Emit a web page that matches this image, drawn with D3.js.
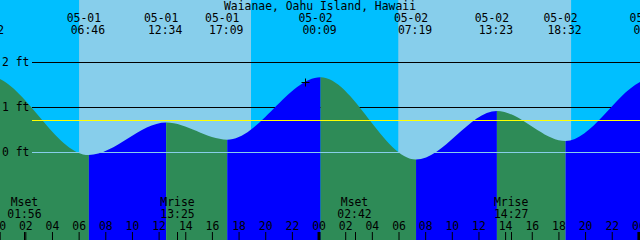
<!DOCTYPE html>
<html>
<head>
<meta charset="utf-8">
<script src="https://cdn.jsdelivr.net/npm/d3@7"></script>
<style>
  html, body { margin: 0; padding: 0; background: #00bfff; }
  svg { display: block; }
  text { font-family: "DejaVu Sans Mono", monospace; font-size: 11.4px; fill: #000; }
</style>
</head>
<body>
<div class="canvas"></div>
<script>
// Tide data (high / low events, incl. the ones just off each edge)
const title = 'Waianae, Oahu Island, Hawaii';
const tideTimes = ['2024-04-30 16:30', '2024-04-30 23:12', '2024-05-01 06:46', '2024-05-01 12:34',
    '2024-05-01 17:09', '2024-05-02 00:09', '2024-05-02 07:19', '2024-05-02 13:23',
    '2024-05-02 18:32', '2024-05-03 01:00', '2024-05-03 07:50'];
const tideHeights = [0.30, 1.70, -0.06, 0.66, 0.28, 1.67, -0.16, 0.92, 0.25, 1.63, -0.20];

const sunrises = ['2024-05-01 06:02', '2024-05-02 05:59'];
const sunsets = ['2024-05-01 18:56', '2024-05-02 18:57'];

const moonTimes = ['2024-05-01 01:56', '2024-05-01 13:25', '2024-05-02 02:42', '2024-05-02 14:27'];
const moonLabels = ['Mset', 'Mrise', 'Mset', 'Mrise'];

const levelTicks = [0, 1, 2];
const meanLevel = 0.71;
const nowTime = '2024-05-01 22:58';
const nowHeight = 1.56;

const svgWidth = 640;
const svgHeight = 240;

const parse = d3.utcParse('%Y-%m-%d %H:%M');
const tides = tideTimes.map((t, i) => ({ t: parse(t), h: tideHeights[i] }));

const svg = d3.select('.canvas')
    .append('svg')
    .attr('width', svgWidth)
    .attr('height', svgHeight);

// two days, the first midnight sits just left of the edge
const x = d3.scaleUtc()
    .domain([parse('2024-05-01 00:00'), parse('2024-05-03 00:00')])
    .range([-1.33, 638.4]);

const y = d3.scaleLinear()
    .domain([0, 2])
    .range([152.3, 62.3]);

// night background + daylight bands
svg.append('rect')
    .attr('width', svgWidth).attr('height', svgHeight)
    .attr('fill', '#00bfff');

svg.selectAll('.day')
    .data(sunrises)
    .enter().append('rect')
    .attr('class', 'day')
    .attr('x', d => x(parse(d)))
    .attr('width', (d, i) => x(parse(sunsets[i])) - x(parse(d)))
    .attr('y', 0)
    .attr('height', svgHeight)
    .attr('fill', '#87ceeb');

// black level lines sit behind the water
svg.selectAll('.level')
    .data(levelTicks.filter(d => d !== 0))
    .enter().append('line')
    .attr('x1', 32).attr('x2', svgWidth)
    .attr('y1', d => Math.round(y(d)) + 0.5)
    .attr('y2', d => Math.round(y(d)) + 0.5)
    .attr('stroke', '#000');

// tide area, blue while rising and green while falling
const area = d3.area()
    .x(d => x(d.t))
    .y0(svgHeight)
    .y1(d => y(d.h))
    .curve(d3.curveMonotoneX);

svg.append('clipPath')
    .attr('id', 'water')
    .append('path')
    .attr('d', area(tides));

const segments = d3.pairs(tides);

svg.append('g')
    .attr('clip-path', 'url(#water)')
    .selectAll('rect')
    .data(segments)
    .enter().append('rect')
    .attr('x', d => x(d[0].t))
    .attr('width', d => x(d[1].t) - x(d[0].t))
    .attr('y', 0)
    .attr('height', svgHeight)
    .attr('fill', d => d[1].h > d[0].h ? '#0000ff' : '#2e8b57');

// datum line and mean level on top
svg.append('line')
    .attr('x1', 32).attr('x2', svgWidth)
    .attr('y1', Math.round(y(0)) + 0.5).attr('y2', Math.round(y(0)) + 0.5)
    .attr('stroke', '#87ceeb');

svg.append('line')
    .attr('x1', 32).attr('x2', svgWidth)
    .attr('y1', Math.round(y(meanLevel)) + 0.5).attr('y2', Math.round(y(meanLevel)) + 0.5)
    .attr('stroke', '#ffff00');

// level labels
svg.selectAll('.level-label')
    .data(levelTicks)
    .enter().append('text')
    .attr('x', 2)
    .attr('y', d => y(d) + 4)
    .text(d => `${d} ft`);

// title and high/low labels
svg.append('text')
    .attr('x', svgWidth / 2)
    .attr('y', 9.5)
    .attr('text-anchor', 'middle')
    .text(title);

const fmtDate = d3.utcFormat('%m-%d');
const fmtTime = d3.utcFormat('%H:%M');

// only label events that land near the visible window
const shown = tides.filter(d => x(d.t) > -40 && x(d.t) < svgWidth + 40);

svg.selectAll('.tide-date')
    .data(shown)
    .enter().append('text')
    .attr('x', d => x(d.t) - 5)
    .attr('y', 21.7)
    .attr('text-anchor', 'middle')
    .text(d => fmtDate(d.t));

svg.selectAll('.tide-time')
    .data(shown)
    .enter().append('text')
    .attr('x', d => x(d.t) - 1)
    .attr('y', 34)
    .attr('text-anchor', 'middle')
    .text(d => fmtTime(d.t));

// hour axis along the bottom
const xAxis = d3.axisTop(x)
    .ticks(d3.utcHour.every(2))
    .tickFormat(d3.utcFormat('%H'))
    .tickSize(8)
    .tickPadding(2);

const xAxisGroup = svg.append('g')
    .attr('transform', `translate(0, ${svgHeight})`)
    .call(xAxis);

xAxisGroup.select('.domain').remove();
xAxisGroup.attr('font-size', null).attr('font-family', null);
xAxisGroup.selectAll('.tick line')
    .attr('stroke', '#000')
    .attr('stroke-width', d => d.getUTCHours() === 0 ? 3 : 1);
xAxisGroup.selectAll('.tick text')
    .attr('fill', '#000');

// moon events
const moon = moonTimes.map((t, i) => ({ t: parse(t), label: moonLabels[i] }));

svg.selectAll('.moon-tick')
    .data(moon)
    .enter().append('line')
    .attr('x1', d => Math.round(x(d.t)) + 0.5)
    .attr('x2', d => Math.round(x(d.t)) + 0.5)
    .attr('y1', svgHeight - 8).attr('y2', svgHeight)
    .attr('stroke', '#000');

svg.selectAll('.moon-name')
    .data(moon)
    .enter().append('text')
    .attr('x', d => x(d.t))
    .attr('y', 206)
    .attr('text-anchor', 'middle')
    .text(d => d.label);

svg.selectAll('.moon-time')
    .data(moon)
    .enter().append('text')
    .attr('x', d => x(d.t))
    .attr('y', 218)
    .attr('text-anchor', 'middle')
    .text(d => fmtTime(d.t));

// current time marker
const nx = Math.round(x(parse(nowTime))) + 0.5;
const ny = Math.round(y(nowHeight)) + 0.5;
svg.append('path')
    .attr('d', `M${nx - 4},${ny}H${nx + 4}M${nx},${ny - 4}V${ny + 4}`)
    .attr('stroke', '#000')
    .attr('fill', 'none');
</script>
</body>
</html>
